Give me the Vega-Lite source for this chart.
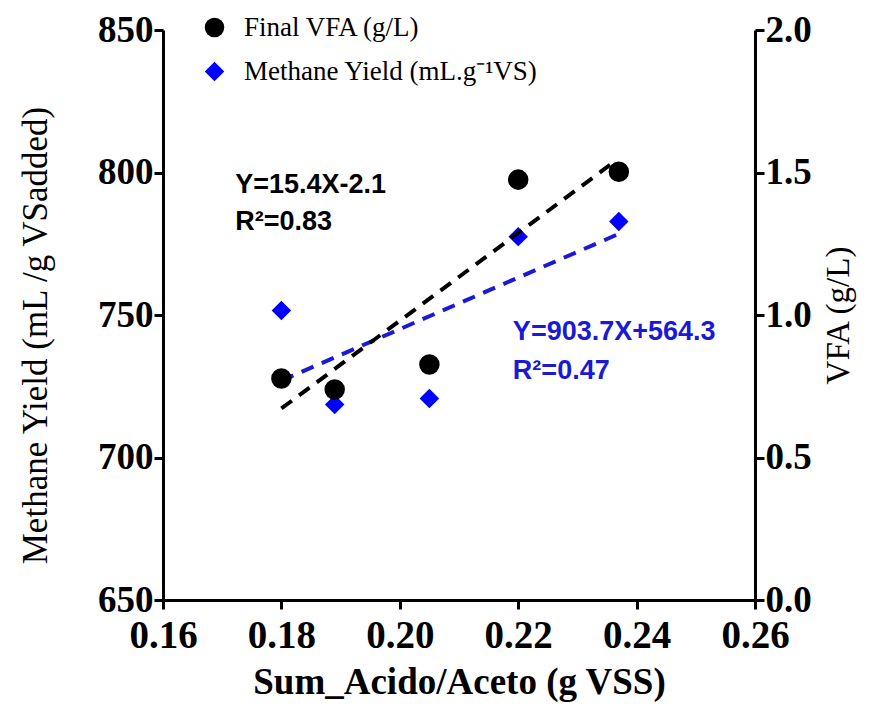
{
  "$schema": "https://vega.github.io/schema/vega-lite/v6.json",
  "width": 592,
  "height": 570,
  "autosize": "none",
  "padding": {"left": 163, "top": 30, "right": 117, "bottom": 108},
  "background": "white",
  "config": {
    "view": {"stroke": null},
    "font": "Liberation Serif",
    "axis": {
      "domainColor": "black", "domainWidth": 3, "tickColor": "black", "tickWidth": 3,
      "tickSize": 9, "grid": false, "labelColor": "black", "titleColor": "black",
      "labelFont": "Liberation Serif", "labelFontWeight": "bold", "titleFont": "Liberation Serif"
    },
    "legend": {
      "title": null, "orient": "none", "legendX": 38, "legendY": -16,
      "labelFont": "Liberation Serif", "labelFontSize": 27, "labelColor": "black", "labelLimit": 0,
      "symbolSize": 380, "symbolStrokeWidth": 0, "symbolOpacity": 1, "labelOffset": 16, "rowPadding": 16
    }
  },
  "encoding": {
    "x": {
      "field": "x", "type": "quantitative",
      "scale": {"domain": [0.16, 0.26], "nice": false, "zero": false},
      "axis": {
        "values": [0.16, 0.18, 0.2, 0.22, 0.24, 0.26], "format": ".2f",
        "labelFontSize": 39, "labelPadding": 7, "labelFlush": false,
        "title": "Sum_Acido/Aceto (g VSS)", "titleFontSize": 37, "titleFontWeight": "bold", "titlePadding": 9
      }
    }
  },
  "layer": [
    {
      "encoding": {
        "y": {
          "field": "my", "type": "quantitative",
          "scale": {"domain": [650, 850], "nice": false, "zero": false},
          "axis": {
            "orient": "left", "values": [650, 700, 750, 800, 850],
            "labelFontSize": 37, "labelPadding": 1, "labelFlush": false,
            "title": "Methane Yield (mL /g VSadded)", "titleFontSize": 35, "titleFontWeight": "normal", "titlePadding": 44,
            "titleY": 305
          }
        }
      },
      "layer": [
        {
          "data": {"values": [
            {"x": 0.18, "my": 751.6, "series": "Methane Yield (mL.g⁻¹VS)"},
            {"x": 0.189, "my": 718.6, "series": "Methane Yield (mL.g⁻¹VS)"},
            {"x": 0.205, "my": 720.7, "series": "Methane Yield (mL.g⁻¹VS)"},
            {"x": 0.22, "my": 777.5, "series": "Methane Yield (mL.g⁻¹VS)"},
            {"x": 0.237, "my": 782.8, "series": "Methane Yield (mL.g⁻¹VS)"}
          ]},
          "mark": {"type": "point", "filled": true, "opacity": 1, "size": 380},
          "encoding": {
            "color": {"field": "series", "type": "nominal",
              "scale": {"domain": ["Final VFA (g/L)", "Methane Yield (mL.g⁻¹VS)"], "range": ["black", "#0000ff"]}
            },
            "shape": {"field": "series", "type": "nominal",
              "scale": {"domain": ["Final VFA (g/L)", "Methane Yield (mL.g⁻¹VS)"], "range": ["circle", "diamond"]}
            }
          }
        },
        {
          "data": {"values": [
            {"x": 0.18, "my": 726.97},
            {"x": 0.237, "my": 778.48}
          ]},
          "mark": {"type": "line", "color": "#1a1ad6", "strokeWidth": 4, "strokeDash": [13, 9]}
        },
        {
          "data": {"values": [
            {"x": 0.1722, "my": 795.5, "label": "Y=15.4X-2.1"},
            {"x": 0.1722, "my": 782.5, "label": "R²=0.83"}
          ]},
          "mark": {"type": "text", "align": "left", "baseline": "middle", "font": "Liberation Sans", "fontWeight": "bold", "fontSize": 27, "color": "black"},
          "encoding": {"text": {"field": "label"}}
        },
        {
          "data": {"values": [
            {"x": 0.2191, "my": 744.0, "label": "Y=903.7X+564.3"},
            {"x": 0.2191, "my": 730.5, "label": "R²=0.47"}
          ]},
          "mark": {"type": "text", "align": "left", "baseline": "middle", "font": "Liberation Sans", "fontWeight": "bold", "fontSize": 27, "color": "#1a1ad6"},
          "encoding": {"text": {"field": "label"}}
        }
      ]
    },
    {
      "encoding": {
        "y": {
          "field": "vfa", "type": "quantitative",
          "scale": {"domain": [0, 2], "nice": false, "zero": true},
          "axis": {
            "orient": "right", "values": [0, 0.5, 1, 1.5, 2], "format": ".1f",
            "labelFontSize": 37, "labelPadding": 1, "labelFlush": false,
            "title": "VFA (g/L)", "titleFontSize": 33, "titleFontWeight": "normal", "titlePadding": 44, "titleAngle": 270
          }
        }
      },
      "layer": [
        {
          "data": {"values": [
            {"x": 0.18, "vfa": 0.777, "series": "Final VFA (g/L)"},
            {"x": 0.189, "vfa": 0.739, "series": "Final VFA (g/L)"},
            {"x": 0.205, "vfa": 0.826, "series": "Final VFA (g/L)"},
            {"x": 0.22, "vfa": 1.475, "series": "Final VFA (g/L)"},
            {"x": 0.237, "vfa": 1.503, "series": "Final VFA (g/L)"}
          ]},
          "mark": {"type": "point", "filled": true, "opacity": 1, "size": 420},
          "encoding": {
            "color": {"field": "series", "type": "nominal"},
            "shape": {"field": "series", "type": "nominal"}
          }
        },
        {
          "data": {"values": [
            {"x": 0.18, "vfa": 0.672},
            {"x": 0.236, "vfa": 1.534}
          ]},
          "mark": {"type": "line", "color": "black", "strokeWidth": 4, "strokeDash": [13, 9]}
        }
      ]
    }
  ],
  "resolve": {"scale": {"y": "independent", "color": "shared", "shape": "shared"}}
}
